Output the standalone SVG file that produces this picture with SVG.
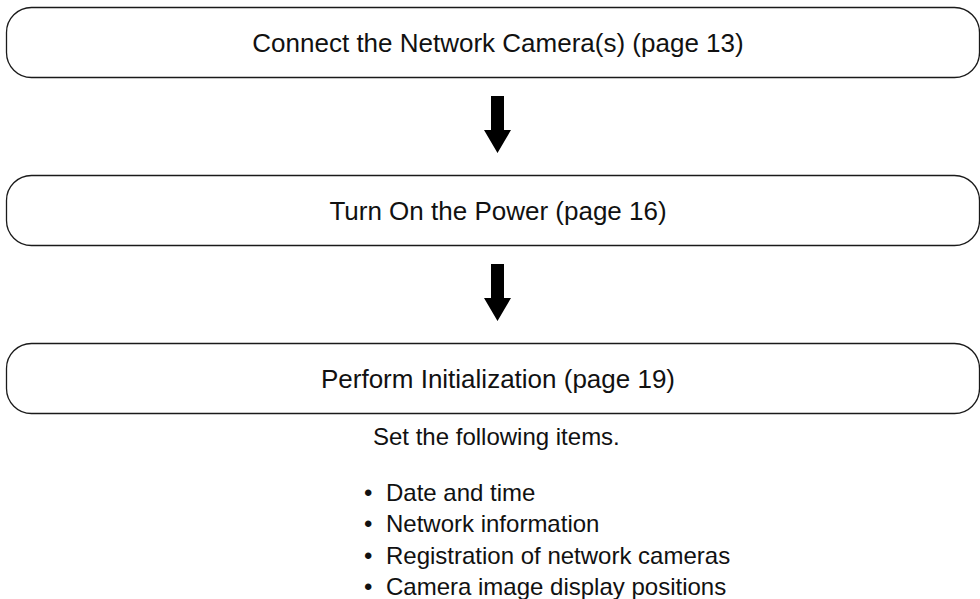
<svg xmlns="http://www.w3.org/2000/svg" width="980" height="599" viewBox="0 0 980 599">
<style>
.box{fill:#fff;stroke:#1a1a1a;stroke-width:1.3}
.t{font-family:"Liberation Sans",Arial,sans-serif;fill:#111}
.title{font-size:26px;text-anchor:middle}
.body{font-size:24px}
.arr{fill:#000}
</style>
<rect width="980" height="599" fill="#fff"/>
<g id="node1">
<rect class="box" x="6.5" y="7.5" width="973" height="70" rx="25" ry="25"/>
<text class="t title" x="498" y="52">Connect the Network Camera(s) (page 13)</text>
</g>
<g id="node2">
<rect class="box" x="6.5" y="175.5" width="973" height="70" rx="25" ry="25"/>
<text class="t title" x="498" y="220">Turn On the Power (page 16)</text>
</g>
<g id="node3">
<rect class="box" x="6.5" y="343.5" width="973" height="70" rx="25" ry="25"/>
<text class="t title" x="498" y="388">Perform Initialization (page 19)</text>
</g>
<g id="connectors">
<path class="arr" d="M491,96 H504 V130 H511 L497.5,153 L484,130 H491 Z"/>
<path class="arr" d="M491,264 H504 V298 H511 L497.5,321 L484,298 H491 Z"/>
</g>
<g id="notes">
<text class="t body" x="373" y="445">Set the following items.</text>
<text class="t body" x="364" y="501">•</text>
<text class="t body" x="386" y="501">Date and time</text>
<text class="t body" x="364" y="532">•</text>
<text class="t body" x="386" y="532">Network information</text>
<text class="t body" x="364" y="563.5">•</text>
<text class="t body" x="386" y="563.5">Registration of network cameras</text>
<text class="t body" x="364" y="595">•</text>
<text class="t body" x="386" y="595">Camera image display positions</text>
</g>
</svg>
